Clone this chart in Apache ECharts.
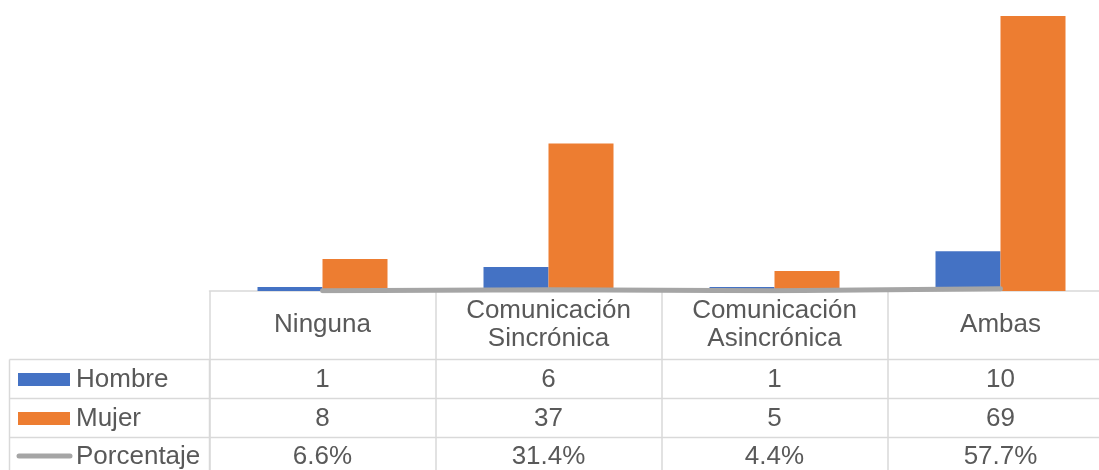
<!DOCTYPE html>
<html>
<head>
<meta charset="utf-8">
<script src="https://cdn.jsdelivr.net/npm/echarts@6/dist/echarts.min.js"></script>
<style>
html,body{margin:0;padding:0;background:#fff;}
#c{width:1099px;height:470px;}
</style>
</head>
<body>
<div id="c"></div>
<script>
// ---- data ----
const categories = ['Ninguna', 'Comunicación\nSincrónica', 'Comunicación\nAsincrónica', 'Ambas'];
const seriesNames = ['Hombre', 'Mujer', 'Porcentaje'];
const hombre = [1, 6, 1, 10];
const mujer = [8, 37, 5, 69];
const porcentaje = [0.066, 0.314, 0.044, 0.577];

// ---- style ----
const colors = ['#4472C4', '#ED7D31', '#A5A5A5'];
const textColor = '#595959';
const borderColor = '#D9D9D9';
const fontFamily = 'Liberation Sans, Arial, sans-serif';
const fontSize = 26;

const gridLeft = 209.5, gridTop = 12, gridBottomY = 291, gridWidth = 904;
const rowCenters = [379.5, 418.5, 457];
const rowLines = [359.5, 398.5, 437.5];

const fmtPct = v => (v * 100).toFixed(1) + '%';
const rowTexts = [hombre.map(String), mujer.map(String), porcentaje.map(fmtPct)];

const chart = echarts.init(document.getElementById('c'), null, {renderer: 'canvas'});

const valueAxes = rowTexts.map((row, i) => ({
  type: 'category',
  data: row,
  position: 'bottom',
  offset: rowCenters[i] - gridBottomY,
  axisLine: {show: false},
  axisTick: {show: false},
  axisLabel: {
    interval: 0, margin: 0, verticalAlign: 'middle',
    color: textColor, fontFamily: fontFamily, fontSize: fontSize
  }
}));

const graphics = [];
rowLines.forEach(y => {
  graphics.push({type: 'line', silent: true, z: 1,
    shape: {x1: 9.5, y1: y, x2: 1099, y2: y},
    style: {stroke: borderColor, lineWidth: 1.5}});
});
graphics.push({type: 'line', silent: true, z: 1,
  shape: {x1: 9.5, y1: rowLines[0], x2: 9.5, y2: 470},
  style: {stroke: borderColor, lineWidth: 1.5}});
graphics.push({type: 'line', silent: true, z: 1,
  shape: {x1: 209.5, y1: rowLines[0], x2: 209.5, y2: 470},
  style: {stroke: borderColor, lineWidth: 1.5}});
seriesNames.forEach((name, i) => {
  const cy = rowCenters[i];
  if (i < 2) {
    graphics.push({type: 'rect', silent: true, z: 5,
      shape: {x: 18, y: cy - 6.5, width: 52, height: 13},
      style: {fill: colors[i]}});
  } else {
    graphics.push({type: 'line', silent: true, z: 5,
      shape: {x1: 19, y1: cy - 1, x2: 70, y2: cy - 1},
      style: {stroke: colors[i], lineWidth: 5, lineCap: 'round'}});
  }
  graphics.push({type: 'text', silent: true, z: 5,
    x: 76, y: cy,
    style: {text: name, fill: textColor, font: fontSize + 'px ' + fontFamily,
      verticalAlign: 'middle', align: 'left'}});
});

chart.setOption({
  animation: false,
  backgroundColor: '#fff',
  grid: {left: gridLeft, top: gridTop, width: gridWidth, height: gridBottomY - gridTop,
    containLabel: false, outerBoundsMode: 'none'},
  xAxis: [{
    type: 'category',
    data: categories,
    axisLine: {show: true, lineStyle: {color: borderColor, width: 1.5}},
    axisTick: {show: true, alignWithLabel: false, length: 179, lineStyle: {color: borderColor, width: 1.5}},
    axisLabel: {
      interval: 0, margin: 34, verticalAlign: 'middle', lineHeight: 28,
      color: textColor, fontFamily: fontFamily, fontSize: fontSize
    },
    splitLine: {show: false}
  }].concat(valueAxes),
  yAxis: {
    type: 'value', min: 0, max: 70, show: false,
    splitLine: {show: false}
  },
  series: [
    {name: seriesNames[0], type: 'bar', data: hombre, barWidth: 65, barGap: '0%',
      itemStyle: {color: colors[0]}, z: 2},
    {name: seriesNames[1], type: 'bar', data: mujer, barWidth: 65, barGap: '0%',
      itemStyle: {color: colors[1]}, z: 2},
    {name: seriesNames[2], type: 'line', data: porcentaje, symbol: 'none',
      lineStyle: {color: colors[2], width: 5, cap: 'round'}, itemStyle: {color: colors[2]}, z: 4}
  ],
  graphic: graphics
});
</script>
</body>
</html>
